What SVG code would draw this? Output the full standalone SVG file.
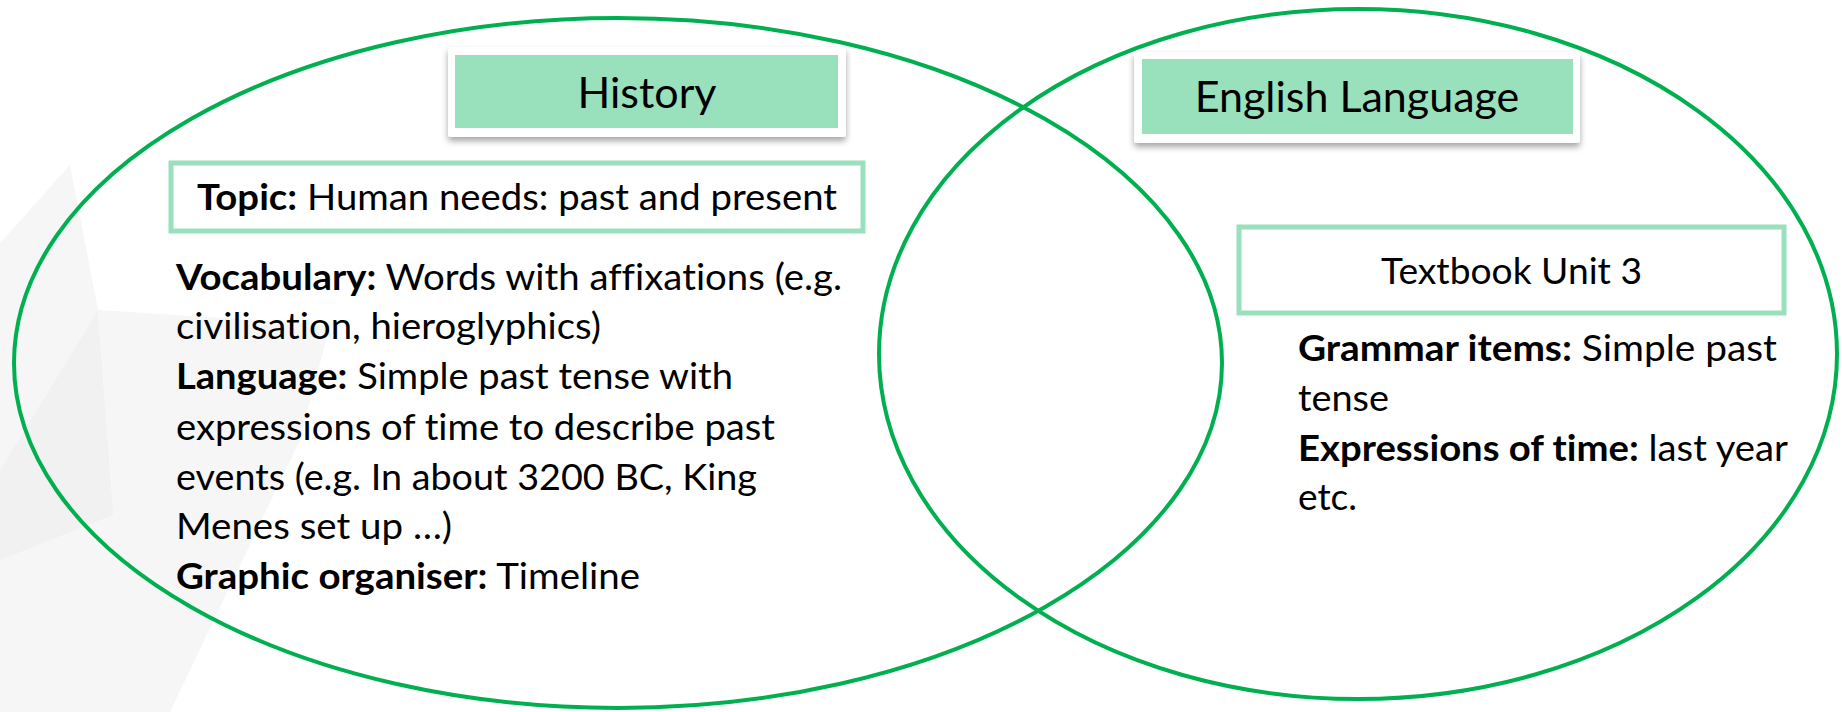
<svg xmlns="http://www.w3.org/2000/svg" width="1842" height="712" viewBox="0 0 1842 712">
<defs>
<filter id="shadow" x="-10%" y="-20%" width="120%" height="150%">
<feDropShadow dx="0" dy="4" stdDeviation="3" flood-color="#000" flood-opacity="0.35"/>
</filter>
</defs>
<style>
.ell{fill:none;stroke:#00B050;stroke-width:4}
.hdr-out{fill:#fff;filter:url(#shadow)}
.hdr-in{fill:#99E0BC}
.box{fill:#fff;stroke:#99E0BC;stroke-width:5}
.t{font-family:Lato,"Liberation Sans",sans-serif;fill:#000;font-variant-ligatures:none}
.h{font-size:43px}
.b{font-size:36px}
.bold{font-weight:bold}
.bg1{fill:#f1f1f1}
.bg2{fill:#f6f6f6}
</style>
<rect width="1842" height="712" fill="#fff"/>
<g id="background">
<polygon class="bg2" points="0,243 70,165 98,310 0,470"/>
<polygon class="bg1" points="0,470 98,310 120,600 0,712"/>
<polygon class="bg2" points="0,560 300,440 170,712 0,712"/>
<polygon class="bg2" points="98,310 330,325 300,440 120,600"/>
</g>
<g id="connectors">
<ellipse class="ell" cx="618" cy="363" rx="604" ry="345"/>
<ellipse class="ell" cx="1358" cy="354" rx="479" ry="345"/>
</g>
<g id="history-header">
<rect class="hdr-out" x="448" y="47" width="398" height="90" rx="3"/>
<rect class="hdr-in" x="455" y="55" width="383" height="73"/>
<text class="t h" x="647" y="108" text-anchor="middle">History</text>
</g>
<g id="english-header">
<rect class="hdr-out" x="1134" y="52" width="446" height="91" rx="3"/>
<rect class="hdr-in" x="1142" y="59" width="431" height="75"/>
<text class="t h" x="1357" y="112" text-anchor="middle">English Language</text>
</g>
<g id="topic-box">
<rect class="box" x="171" y="163" width="692" height="68"/>
<text class="t b" x="197" y="210" textLength="640" lengthAdjust="spacingAndGlyphs"><tspan class="bold">Topic:</tspan> Human needs: past and present</text>
</g>
<g id="history-details">
<text class="t b" x="176" y="290" textLength="666" lengthAdjust="spacingAndGlyphs"><tspan class="bold">Vocabulary:</tspan> Words with affixations (e.g.</text>
<text class="t b" x="176" y="339" textLength="425" lengthAdjust="spacingAndGlyphs">civilisation, hieroglyphics)</text>
<text class="t b" x="176" y="389" textLength="557" lengthAdjust="spacingAndGlyphs"><tspan class="bold">Language:</tspan> Simple past tense with</text>
<text class="t b" x="176" y="440" textLength="599" lengthAdjust="spacingAndGlyphs">expressions of time to describe past</text>
<text class="t b" x="176" y="490" textLength="581" lengthAdjust="spacingAndGlyphs">events (e.g. In about 3200 BC, King</text>
<text class="t b" x="176" y="539" textLength="276" lengthAdjust="spacingAndGlyphs">Menes set up …)</text>
<text class="t b" x="176" y="589" textLength="464" lengthAdjust="spacingAndGlyphs"><tspan class="bold">Graphic organiser:</tspan> Timeline</text>
</g>
<g id="textbook-box">
<rect class="box" x="1239" y="227" width="545" height="86"/>
<text class="t" x="1381" y="284" font-size="37" textLength="261" lengthAdjust="spacingAndGlyphs">Textbook Unit 3</text>
</g>
<g id="english-details">
<text class="t b" x="1298" y="361" textLength="479" lengthAdjust="spacingAndGlyphs"><tspan class="bold">Grammar items:</tspan> Simple past</text>
<text class="t b" x="1298" y="411" textLength="91" lengthAdjust="spacingAndGlyphs">tense</text>
<text class="t b" x="1298" y="461" textLength="490" lengthAdjust="spacingAndGlyphs"><tspan class="bold">Expressions of time:</tspan> last year</text>
<text class="t b" x="1298" y="510" textLength="59" lengthAdjust="spacingAndGlyphs">etc.</text>
</g>
</svg>
